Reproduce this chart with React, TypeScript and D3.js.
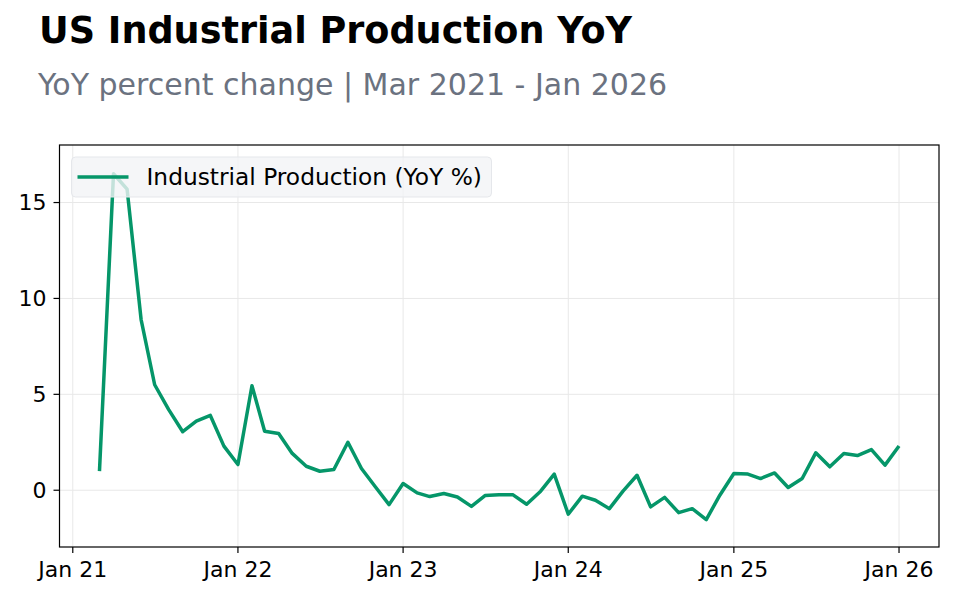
import React from "react";
import * as d3 from "d3";

// monthly observations, Mar 2021 - Jan 2026
const months = [
  "2021-03", "2021-04", "2021-05", "2021-06", "2021-07", "2021-08", "2021-09", "2021-10", "2021-11", "2021-12",
  "2022-01", "2022-02", "2022-03", "2022-04", "2022-05", "2022-06", "2022-07", "2022-08", "2022-09", "2022-10", "2022-11", "2022-12",
  "2023-01", "2023-02", "2023-03", "2023-04", "2023-05", "2023-06", "2023-07", "2023-08", "2023-09", "2023-10", "2023-11", "2023-12",
  "2024-01", "2024-02", "2024-03", "2024-04", "2024-05", "2024-06", "2024-07", "2024-08", "2024-09", "2024-10", "2024-11", "2024-12",
  "2025-01", "2025-02", "2025-03", "2025-04", "2025-05", "2025-06", "2025-07", "2025-08", "2025-09", "2025-10", "2025-11", "2025-12",
  "2026-01",
];

const yoy = [
  1.0, 16.5, 15.7, 8.9, 5.5, 4.2, 3.05, 3.6, 3.9, 2.3,
  1.34, 5.45, 3.08, 2.96, 1.92, 1.25, 0.99, 1.08, 2.5, 1.13, 0.17, -0.75,
  0.35, -0.14, -0.33, -0.17, -0.35, -0.84, -0.28, -0.23, -0.24, -0.73, -0.05, 0.84,
  -1.25, -0.31, -0.52, -0.96, -0.05, 0.78, -0.87, -0.37, -1.17, -0.96, -1.53, -0.26,
  0.87, 0.84, 0.61, 0.9, 0.14, 0.61, 1.95, 1.22, 1.91, 1.81, 2.12, 1.31,
  2.31,
];

const yTicks = [0, 5, 10, 15];
const xTickDates = ["2021-01", "2022-01", "2023-01", "2024-01", "2025-01", "2026-01"];

const TITLE = "US Industrial Production YoY";
const SUBTITLE = "YoY percent change | Mar 2021 - Jan 2026";
const SERIES_LABEL = "Industrial Production (YoY %)";

const parseMonth = d3.timeParse("%Y-%m");
const fmtTick = d3.timeFormat("%b %y");

export default function App() {
  const width = 960;
  const height = 600;
  const margin = { top: 145, right: 21, bottom: 53, left: 59.5 };
  const innerW = width - margin.left - margin.right;
  const innerH = height - margin.top - margin.bottom;

  const data = months.map((m, i) => ({ date: parseMonth(m) as Date, value: yoy[i] }));

  // 5% padding on the date extent, like matplotlib's default margins
  const [d0, d1] = d3.extent(data, (d) => d.date) as [Date, Date];
  const pad = (d1.getTime() - d0.getTime()) * 0.05;
  const x = d3
    .scaleTime()
    .domain([new Date(d0.getTime() - pad), new Date(d1.getTime() + pad)])
    .range([0, innerW]);

  const y = d3.scaleLinear().domain([-2.96, 18.0]).range([innerH, 0]);

  const line = d3
    .line<{ date: Date; value: number }>()
    .x((d) => x(d.date))
    .y((d) => y(d.value));

  const xTicks = xTickDates.map((s) => parseMonth(s) as Date);
  const font = "DejaVu Sans, sans-serif";
  const green = "#059669";

  return (
    <div style={{ position: "fixed", left: 0, top: 0 }}>
      <svg width={width} height={height} style={{ display: "block", background: "#fff" }}>
        <text x={39} y={43} fontFamily={font} fontWeight="bold" fontSize={36.6} fill="#000">
          {TITLE}
        </text>
        <text x={38} y={95} fontFamily={font} fontSize={30} fill="#6b7280">
          {SUBTITLE}
        </text>

        <g transform={`translate(${margin.left},${margin.top})`}>
          {/* grid */}
          {yTicks.map((t) => (
            <line key={`gy${t}`} x1={0} x2={innerW} y1={y(t)} y2={y(t)} stroke="#e8e8e8" strokeWidth={1} />
          ))}
          {xTicks.map((t, i) => (
            <line key={`gx${i}`} x1={x(t)} x2={x(t)} y1={0} y2={innerH} stroke="#e8e8e8" strokeWidth={1} />
          ))}

          <path d={line(data) || ""} fill="none" stroke={green} strokeWidth={3.5} strokeLinejoin="round" />

          {/* frame */}
          <rect x={0} y={0} width={innerW} height={innerH} fill="none" stroke="#000" strokeWidth={1.2} />

          {/* y axis */}
          {yTicks.map((t) => (
            <g key={`yt${t}`} transform={`translate(0,${y(t)})`}>
              <line x1={-6} x2={0} stroke="#000" strokeWidth={1.2} />
              <text x={-13} dy="0.36em" textAnchor="end" fontFamily={font} fontSize={22} fill="#000">
                {t}
              </text>
            </g>
          ))}

          {/* x axis */}
          {xTicks.map((t, i) => (
            <g key={`xt${i}`} transform={`translate(${x(t)},${innerH})`}>
              <line y1={0} y2={6} stroke="#000" strokeWidth={1.2} />
              <text y={29.5} textAnchor="middle" fontFamily={font} fontSize={22} fill="#000">
                {fmtTick(t)}
              </text>
            </g>
          ))}

          {/* legend */}
          <g transform="translate(12,12)">
            <rect
              x={0}
              y={0}
              width={420}
              height={40}
              rx={4}
              fill="#f3f4f6"
              fillOpacity={0.8}
              stroke="#e5e7eb"
              strokeWidth={1}
            />
            <line x1={6} x2={57} y1={20} y2={20} stroke={green} strokeWidth={3.5} />
            <text x={75} y={28} fontFamily={font} fontSize={23.3} fill="#000">
              {SERIES_LABEL}
            </text>
          </g>
        </g>
      </svg>
    </div>
  );
}
